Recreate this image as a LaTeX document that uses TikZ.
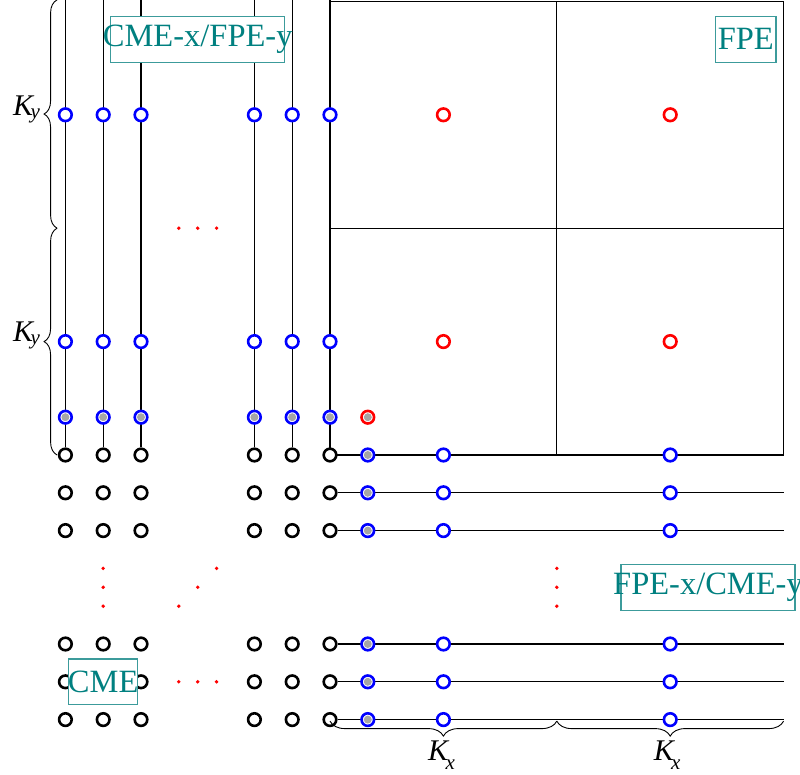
\documentclass[tikz,border=0pt]{standalone}
\usepackage{fontspec}
\setmainfont{Liberation Serif}
\usetikzlibrary{decorations.pathreplacing,backgrounds}

\definecolor{labelteal}{RGB}{0,128,128}
\definecolor{frameteal}{RGB}{60,155,155}
\definecolor{dotgray}{RGB}{166,166,166}

% K with a lowered italic subscript: #1 = drop, #2 = letter
\newcommand\Ksub[2]{\textit{K}\kern-4pt\raisebox{-#1}{\fontsize{21}{21}\selectfont\textit{#2}}}

\tikzset{
  grid line/.style={line width=1.3pt, black},
  pt/.style={circle, minimum size=12.6pt, inner sep=0pt, line width=2.6pt, fill=white},
  blackpt/.style={pt, draw=black},
  bluept/.style={pt, draw=blue},
  redpt/.style={pt, draw=red},
  ghost/.style={path picture={\fill[dotgray] (path picture bounding box.center) circle (4pt);}},
  tagframe/.style={draw=frameteal, fill=white, line width=1.3pt, inner sep=0pt, minimum height=46pt},
  tagtext/.style={text=labelteal, font=\fontsize{32.5}{32.5}\selectfont, inner sep=0pt},
  klabel/.style={font=\fontsize{30}{30}\selectfont, inner sep=0pt},
  bracestyle/.style={decorate, line width=0.9pt}
}

\begin{document}
\begin{tikzpicture}[x=37.8pt,y=37.8pt]
\useasboundingbox (-8.7302,-8.4656) rectangle (12.4339,12.0370);

% vertical columns (CME-x side): blue, ghost and black points
\foreach \x [count=\i] in {-7,-6,-5,-2,-1,0} {
  \coordinate (top\i) at (\x,12.04);
  \node[bluept] (u\i) at (\x,9) {};
  \node[bluept] (m\i) at (\x,3) {};
  \node[bluept,ghost] (g\i) at (\x,1) {};
  \foreach \y [count=\j] in {0,-1,-2,-5,-6,-7}
    \node[blackpt] (k\i-\j) at (\x,\y) {};
}

% horizontal rows (CME-y side)
\foreach \y [count=\j] in {0,-1,-2,-5,-6,-7} {
  \coordinate (end\j) at (12,\y);
  \node[bluept,ghost] (h\j) at (1,\y) {};
  \node[bluept] (p\j) at (3,\y) {};
  \node[bluept] (q\j) at (9,\y) {};
}

% FPE cell centres and the corner ghost point
\node[redpt] (f1) at (3,9) {};
\node[redpt] (f2) at (9,9) {};
\node[redpt] (f3) at (3,3) {};
\node[redpt] (f4) at (9,3) {};
\node[redpt,ghost] (f0) at (1,1) {};

% lines behind the points
\begin{scope}[on background layer]
  \draw[grid line] (0,0) rectangle (12,12);
  \draw[grid line] (6,0) -- (6,12) (0,6) -- (12,6);
  \foreach \i in {1,...,6} \draw[grid line] (top\i) -- (k\i-1);
  \foreach \j in {1,...,6} \draw[grid line] (k6-\j) -- (end\j);
\end{scope}

% ellipsis dots
\foreach \a/\b in {-4/6,-3.5/6,-3/6,
                   -6/-3,-6/-3.5,-6/-4,
                   -3/-3,-3.5/-3.5,-4/-4,
                   6/-3,6/-3.5,6/-4,
                   -4/-6,-3.5/-6,-3/-6}
  \fill[red] (\a,\b) circle (1.9pt);

% region tags: fixed frames, text may run past them
\node[tagframe, minimum width=174pt] (cmefpe-frame) at (-3.5,11) {};
\node[tagtext] (cmefpe) at (-3.5,11) {CME-x/FPE-y};
\node[tagframe, minimum width=60.6pt] (fpe-frame) at (11,11) {};
\node[tagtext] (fpe) at (11,11) {FPE};
\node[tagframe, minimum width=174pt] (fpecme-frame) at (10,-3.5) {};
\node[tagtext] (fpecme) at (10,-3.5) {FPE-x/CME-y};
\node[tagframe, minimum width=68.7pt, minimum height=45.5pt] (cme-frame) at (-6,-6) {};
\node[tagtext] (cme) at (-6,-6) {CME};

% braces
\draw[bracestyle, decoration={brace, amplitude=13pt}] (-7.22,0) -- (-7.22,6);
\draw[bracestyle, decoration={brace, amplitude=13pt}] (-7.22,6) -- (-7.22,12.04);
\draw[bracestyle, decoration={brace, amplitude=15pt}] (6,-7.04) -- (0,-7.04);
\draw[bracestyle, decoration={brace, amplitude=15pt}] (12,-7.04) -- (6,-7.04);

\node[klabel, anchor=base east] (ky1) at (-7.67,8.99) {\Ksub{3pt}{y}};
\node[klabel, anchor=base east] (ky2) at (-7.67,2.99) {\Ksub{3pt}{y}};
\node[klabel, anchor=base] (kx1) at (2.95,-8.07) {\Ksub{9pt}{x}};
\node[klabel, anchor=base] (kx2) at (8.92,-8.07) {\Ksub{9pt}{x}};
\end{tikzpicture}
\end{document}
